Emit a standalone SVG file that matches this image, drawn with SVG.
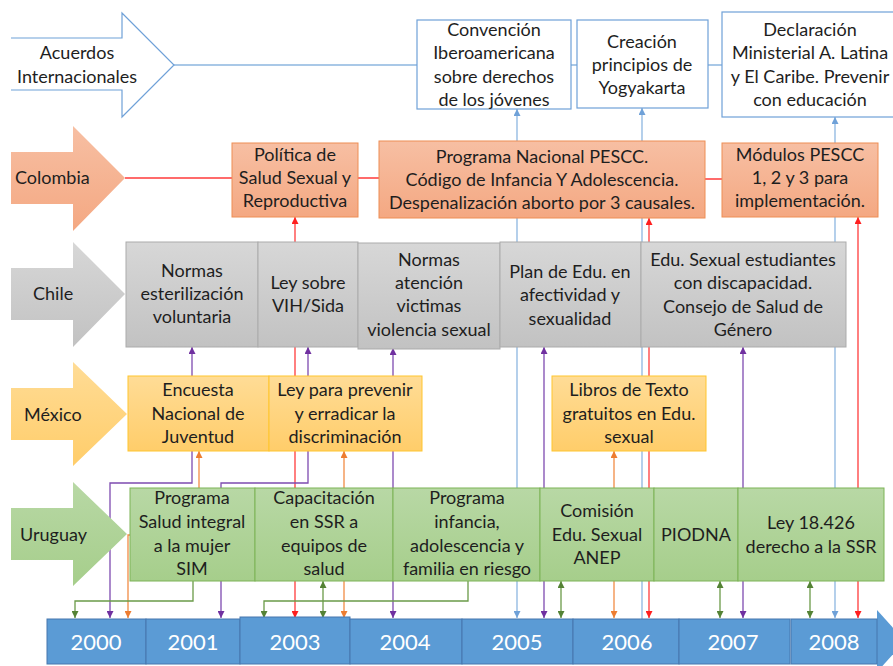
<svg xmlns="http://www.w3.org/2000/svg" width="893" height="666" viewBox="0 0 893 666">
<style>
text{font-family:Lato,"Liberation Sans",sans-serif;font-size:18px;fill:#1e1e1e;text-anchor:middle}
.lab{text-anchor:start}
.yr{fill:#fff;font-size:22px}
.cn{fill:none;stroke-width:1.3}
.b{stroke:#8DB6E0}.r{stroke:#FF3B3B}.p{stroke:#7E4BB0}.o{stroke:#F28C45}.g{stroke:#6A9A48}
.col{fill:url(#gCol);stroke:#EE8E55;stroke-width:1}
.chi{fill:url(#gChi);stroke:#ABABAB;stroke-width:1}
.mex{fill:url(#gMex);stroke:#FFC52E;stroke-width:1}
.uru{fill:url(#gUru);stroke:#7DB356;stroke-width:1}
.acu{fill:#fff;stroke:#6FA1D8;stroke-width:1.2}
.tl{fill:#5B9BD5;stroke:#4677AE;stroke-width:1}
</style>
<defs>
<linearGradient id="gCol" x1="0" y1="0" x2="0" y2="1"><stop offset="0" stop-color="#F7BFA3"/><stop offset="1" stop-color="#F4A882"/></linearGradient>
<linearGradient id="gChi" x1="0" y1="0" x2="0" y2="1"><stop offset="0" stop-color="#D7D7D7"/><stop offset="1" stop-color="#C2C2C2"/></linearGradient>
<linearGradient id="gMex" x1="0" y1="0" x2="0" y2="1"><stop offset="0" stop-color="#FFDC96"/><stop offset="1" stop-color="#FFCD6A"/></linearGradient>
<linearGradient id="gUru" x1="0" y1="0" x2="0" y2="1"><stop offset="0" stop-color="#B8D8A5"/><stop offset="1" stop-color="#A6CE8B"/></linearGradient>
<marker id="mb" viewBox="0 0 10 10" refX="10" refY="5" markerWidth="7" markerHeight="7" markerUnits="userSpaceOnUse" orient="auto-start-reverse"><path d="M0,0L10,5L0,10z" fill="#6FA1D8"/></marker>
<marker id="mr" viewBox="0 0 10 10" refX="10" refY="5" markerWidth="7" markerHeight="7" markerUnits="userSpaceOnUse" orient="auto-start-reverse"><path d="M0,0L10,5L0,10z" fill="#FF1F1F"/></marker>
<marker id="mp" viewBox="0 0 10 10" refX="10" refY="5" markerWidth="7" markerHeight="7" markerUnits="userSpaceOnUse" orient="auto-start-reverse"><path d="M0,0L10,5L0,10z" fill="#7030A0"/></marker>
<marker id="mo" viewBox="0 0 10 10" refX="10" refY="5" markerWidth="7" markerHeight="7" markerUnits="userSpaceOnUse" orient="auto-start-reverse"><path d="M0,0L10,5L0,10z" fill="#ED7D31"/></marker>
<marker id="mg" viewBox="0 0 10 10" refX="10" refY="5" markerWidth="7" markerHeight="7" markerUnits="userSpaceOnUse" orient="auto-start-reverse"><path d="M0,0L10,5L0,10z" fill="#548235"/></marker>
</defs>

<g id="connectors">
<path class="cn b" d="M174,65H417M571,65H577M708,65H722"/>
<path class="cn b" d="M517,618V109" marker-start="url(#mb)" marker-end="url(#mb)"/>
<path class="cn b" d="M642,619V108" marker-end="url(#mb)"/>
<path class="cn b" d="M835,618V117" marker-start="url(#mb)" marker-end="url(#mb)"/>
<path class="cn r" d="M125,178H232M358,178H379M705,179H722"/>
<path class="cn r" d="M295,618V217" marker-start="url(#mr)" marker-end="url(#mr)"/>
<path class="cn r" d="M649,618V218" marker-start="url(#mr)" marker-end="url(#mr)"/>
<path class="cn r" d="M858,618V217" marker-start="url(#mr)" marker-end="url(#mr)"/>
<path class="cn p" d="M110,618V483H192V347" marker-start="url(#mp)" marker-end="url(#mp)"/>
<path class="cn p" d="M221,618V483H308V347" marker-start="url(#mp)" marker-end="url(#mp)"/>
<path class="cn p" d="M393,618V348" marker-start="url(#mp)" marker-end="url(#mp)"/>
<path class="cn p" d="M544,618V347" marker-start="url(#mp)" marker-end="url(#mp)"/>
<path class="cn p" d="M743,618V347" marker-start="url(#mp)" marker-end="url(#mp)"/>
<path class="cn o" d="M128,618V535H199V451" marker-start="url(#mo)" marker-end="url(#mo)"/>
<path class="cn o" d="M344,618V451" marker-start="url(#mo)" marker-end="url(#mo)"/>
<path class="cn o" d="M614,618V451" marker-start="url(#mo)" marker-end="url(#mo)"/>
<path class="cn g" d="M193,581V601H75V618" marker-end="url(#mg)"/>
<path class="cn g" d="M323,618V581" marker-start="url(#mg)" marker-end="url(#mg)"/>
<path class="cn g" d="M468,581V601H264V618" marker-end="url(#mg)"/>
<path class="cn g" d="M561,618V581" marker-start="url(#mg)" marker-end="url(#mg)"/>
<path class="cn g" d="M720,618V581" marker-start="url(#mg)" marker-end="url(#mg)"/>
<path class="cn g" d="M810,618V581" marker-start="url(#mg)" marker-end="url(#mg)"/>
</g>

<g id="acuerdos">
<path d="M11,38H122V13L174,65L122,117V90H11Z" fill="#fff"/>
<path d="M11,38H122V13L174,65L122,117V90H11" fill="none" stroke="#6FA1D8" stroke-width="1.2"/>
<text x="77" y="59">Acuerdos</text>
<text x="77" y="83">Internacionales</text>
</g>
<g id="convencion">
<rect class="acu" x="417" y="20" width="154" height="89"/>
<text x="494" y="36">Convención</text>
<text x="494" y="59">Iberoamericana</text>
<text x="494" y="83">sobre derechos</text>
<text x="494" y="106">de los jóvenes</text>
</g>
<g id="creacion">
<rect class="acu" x="577" y="20" width="131" height="88"/>
<text x="642" y="48">Creación</text>
<text x="642" y="71">principios de</text>
<text x="642" y="94">Yogyakarta</text>
</g>
<g id="declaracion">
<rect class="acu" x="722" y="12" width="180" height="105"/>
<text x="810" y="36">Declaración</text>
<text x="810" y="59">Ministerial A. Latina</text>
<text x="810" y="83">y El Caribe. Prevenir</text>
<text x="810" y="106">con educación</text>
</g>

<g id="colombia">
<path d="M11,152H73V126L125,178L73,231V204H11Z" fill="url(#gCol)"/>
<text class="lab" x="15" y="184">Colombia</text>
</g>
<g id="politica">
<rect class="col" x="232" y="143" width="126" height="74"/>
<text x="295" y="161">Política de</text>
<text x="295" y="184">Salud Sexual y</text>
<text x="295" y="207">Reproductiva</text>
</g>
<g id="programa-nacional">
<rect class="col" x="379" y="141" width="326" height="77"/>
<text x="542" y="163">Programa Nacional PESCC.</text>
<text x="542" y="186">Código de Infancia Y Adolescencia.</text>
<text x="542" y="209">Despenalización aborto por 3 causales.</text>
</g>
<g id="modulos">
<rect class="col" x="722" y="143" width="156" height="74"/>
<text x="800" y="161">Módulos PESCC</text>
<text x="800" y="184">1, 2 y 3 para</text>
<text x="800" y="207">implementación.</text>
</g>

<g id="chile">
<path d="M11,268H73V242L125,294L73,347V320H11Z" fill="url(#gChi)"/>
<text class="lab" x="33" y="300">Chile</text>
</g>
<g id="normas-esterilizacion">
<rect class="chi" x="126" y="242" width="132" height="105"/>
<text x="192" y="277">Normas</text>
<text x="192" y="300">esterilización</text>
<text x="192" y="323">voluntaria</text>
</g>
<g id="ley-vih">
<rect class="chi" x="258" y="242" width="100" height="105"/>
<text x="308" y="289">Ley sobre</text>
<text x="308" y="312">VIH/Sida</text>
</g>
<g id="normas-atencion">
<rect class="chi" x="358" y="243" width="142" height="106"/>
<text x="429" y="266">Normas</text>
<text x="429" y="289">atención</text>
<text x="429" y="312">victimas</text>
<text x="429" y="336">violencia sexual</text>
</g>
<g id="plan-edu">
<rect class="chi" x="500" y="242" width="141" height="105"/>
<text x="570" y="278">Plan de Edu. en</text>
<text x="570" y="301">afectividad y</text>
<text x="570" y="325">sexualidad</text>
</g>
<g id="edu-sexual">
<rect class="chi" x="641" y="242" width="205" height="105"/>
<text x="743" y="266">Edu. Sexual estudiantes</text>
<text x="743" y="289">con discapacidad.</text>
<text x="743" y="313">Consejo de Salud de</text>
<text x="743" y="336">Género</text>
</g>

<g id="mexico">
<path d="M11,388H73V362L127,414L73,466V440H11Z" fill="url(#gMex)"/>
<text class="lab" x="24" y="421">México</text>
</g>
<g id="encuesta">
<rect class="mex" x="128" y="376" width="141" height="75"/>
<text x="198" y="396">Encuesta</text>
<text x="198" y="420">Nacional de</text>
<text x="198" y="443">Juventud</text>
</g>
<g id="ley-prevenir">
<rect class="mex" x="269" y="376" width="153" height="75"/>
<text x="345" y="396">Ley para prevenir</text>
<text x="345" y="420">y erradicar la</text>
<text x="345" y="443">discriminación</text>
</g>
<g id="libros">
<rect class="mex" x="552" y="376" width="154" height="75"/>
<text x="629" y="396">Libros de Texto</text>
<text x="629" y="420">gratuitos en Edu.</text>
<text x="629" y="443">sexual</text>
</g>

<g id="uruguay">
<path d="M11,508H73V482L127,534L73,586V560H11Z" fill="url(#gUru)"/>
<text class="lab" x="20" y="541">Uruguay</text>
</g>
<g id="programa-salud">
<rect class="uru" x="130" y="488" width="125" height="93"/>
<text x="192" y="504">Programa</text>
<text x="192" y="528">Salud integral</text>
<text x="192" y="552">a la mujer</text>
<text x="192" y="575">SIM</text>
</g>
<g id="capacitacion">
<rect class="uru" x="255" y="488" width="138" height="93"/>
<text x="324" y="504">Capacitación</text>
<text x="324" y="528">en SSR a</text>
<text x="324" y="552">equipos de</text>
<text x="324" y="575">salud</text>
</g>
<g id="programa-infancia">
<rect class="uru" x="393" y="488" width="147" height="93"/>
<text x="467" y="504">Programa</text>
<text x="467" y="528">infancia,</text>
<text x="467" y="552">adolescencia y</text>
<text x="467" y="575">familia en riesgo</text>
</g>
<g id="comision">
<rect class="uru" x="540" y="488" width="114" height="93"/>
<text x="597" y="517">Comisión</text>
<text x="597" y="541">Edu. Sexual</text>
<text x="597" y="564">ANEP</text>
</g>
<g id="piodna">
<rect class="uru" x="654" y="488" width="84" height="93"/>
<text x="696" y="541">PIODNA</text>
</g>
<g id="ley-18426">
<rect class="uru" x="738" y="488" width="146" height="93"/>
<text x="811" y="529">Ley 18.426</text>
<text x="811" y="553">derecho a la SSR</text>
</g>

<g id="timeline">
<path d="M877,610L905,641L877,672Z" fill="#5B9BD5"/>
<rect class="tl" x="47" y="619" width="99" height="45"/>
<rect class="tl" x="146" y="619" width="94" height="45"/>
<rect class="tl" x="240" y="617" width="110" height="47"/>
<rect class="tl" x="350" y="619" width="112" height="45"/>
<rect class="tl" x="462" y="619" width="111" height="45"/>
<rect class="tl" x="573" y="619" width="106" height="45"/>
<rect class="tl" x="679" y="619" width="111" height="45"/>
<rect class="tl" x="791" y="619" width="86" height="45"/>
<text class="yr" x="96" y="650">2000</text>
<text class="yr" x="193" y="650">2001</text>
<text class="yr" x="295" y="650">2003</text>
<text class="yr" x="405" y="650">2004</text>
<text class="yr" x="517" y="650">2005</text>
<text class="yr" x="627" y="650">2006</text>
<text class="yr" x="733" y="650">2007</text>
<text class="yr" x="834" y="650">2008</text>
</g>
</svg>
